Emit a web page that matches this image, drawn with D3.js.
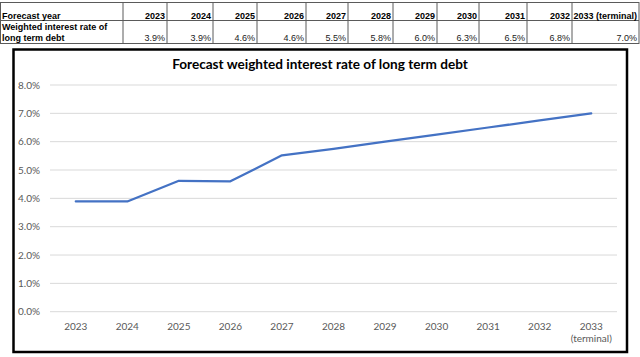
<!DOCTYPE html>
<html>
<head>
<meta charset="utf-8">
<script src="https://cdn.jsdelivr.net/npm/d3@7"></script>
<style>
  html, body { margin: 0; padding: 0; background: #fff; }
  svg { display: block; }
</style>
</head>
<body>
<svg id="chart" width="640" height="357"></svg>
<script>
// ---- data ----
const years = ["2023", "2024", "2025", "2026", "2027", "2028", "2029", "2030", "2031", "2032", "2033 (terminal)"];
const rates = [3.89, 3.89, 4.62, 4.60, 5.52, 5.75, 6.00, 6.25, 6.50, 6.75, 7.00];
const tableValues = ["3.9%", "3.9%", "4.6%", "4.6%", "5.5%", "5.8%", "6.0%", "6.3%", "6.5%", "6.8%", "7.0%"];
const rowLabels = ["Forecast year", ["Weighted interest rate of", "long term debt"]];
const yTicks = [0, 1, 2, 3, 4, 5, 6, 7, 8];
const title = "Forecast weighted interest rate of long term debt";

const svg = d3.select("#chart");

// ---- table ----
const colEdges = [0.5, 123, 167, 213, 257, 306, 348, 393, 437, 479, 527, 572, 639];
const rowEdges = [2.5, 20.5, 43.5];
const table = svg.append("g").attr("font-family", "'Liberation Sans', Arial, sans-serif").attr("font-size", 9);
table.append("rect").attr("x", colEdges[0]).attr("y", rowEdges[0])
  .attr("width", colEdges[colEdges.length - 1] - colEdges[0]).attr("height", rowEdges[2] - rowEdges[0])
  .attr("fill", "#fff").attr("stroke", "#5a5a5a").attr("stroke-width", 1);
table.selectAll("line.v").data(colEdges.slice(1, -1)).join("line")
  .attr("x1", d => d).attr("x2", d => d).attr("y1", rowEdges[0]).attr("y2", rowEdges[2])
  .attr("stroke", "#5a5a5a").attr("stroke-width", 1);
table.append("line").attr("x1", colEdges[0]).attr("x2", colEdges[colEdges.length - 1])
  .attr("y1", rowEdges[1]).attr("y2", rowEdges[1]).attr("stroke", "#5a5a5a");

table.append("text").attr("x", 2).attr("y", 18.5).attr("font-weight", "bold").attr("fill", "#000").text(rowLabels[0]);
table.append("text").attr("x", 2).attr("y", 29.5).attr("font-weight", "bold").attr("fill", "#000").text(rowLabels[1][0]);
table.append("text").attr("x", 2).attr("y", 41).attr("font-weight", "bold").attr("fill", "#000").text(rowLabels[1][1]);

table.selectAll("text.yr").data(years).join("text").attr("class", "yr")
  .attr("x", (d, i) => colEdges[i + 2] - 2).attr("y", 18.5)
  .attr("text-anchor", "end").attr("font-weight", "bold").attr("fill", "#000").text(d => d);
table.selectAll("text.val").data(tableValues).join("text").attr("class", "val")
  .attr("x", (d, i) => colEdges[i + 2] - 2).attr("y", 41)
  .attr("text-anchor", "end").attr("fill", "#222").text(d => d);

// ---- chart frame ----
svg.append("rect").attr("x", 13.5).attr("y", 49.5).attr("width", 613.5).attr("height", 302.5)
  .attr("fill", "#fff").attr("stroke", "#000").attr("stroke-width", 2.5);

const font = "Lato, 'Open Sans', sans-serif";
svg.append("text").attr("x", 320).attr("y", 68.5).attr("text-anchor", "middle")
  .attr("font-family", font).attr("font-weight", "bold").attr("font-size", 13.6).attr("fill", "#000")
  .text(title);

const x = d3.scaleBand().domain(years).range([50, 617]).padding(0);
const y = d3.scaleLinear().domain([0, 8]).range([311.7, 85]);

// gridlines
svg.append("g").selectAll("line").data(yTicks).join("line")
  .attr("x1", 50).attr("x2", 617).attr("y1", d => y(d)).attr("y2", d => y(d))
  .attr("stroke", "#d9d9d9").attr("stroke-width", 1);

// y axis
const yAxis = svg.append("g").attr("transform", "translate(44,0)")
  .call(d3.axisLeft(y).tickValues(yTicks).tickSize(0).tickPadding(4).tickFormat(d => d3.format(".1%")(d / 100)));
yAxis.select(".domain").remove();
yAxis.selectAll("text").attr("font-family", font).attr("font-size", 10).attr("fill", "#595959");

// x axis
const xAxis = svg.append("g").attr("transform", `translate(0,${y(0)})`)
  .call(d3.axisBottom(x).tickSize(0).tickFormat(""));
xAxis.select(".domain").remove();
xAxis.selectAll(".tick").each(function (d) {
  const parts = d.split(" ");
  const t = d3.select(this).append("text").attr("text-anchor", "middle")
    .attr("font-family", font).attr("font-size", 10).attr("fill", "#595959");
  parts.forEach((p, i) => t.append("tspan").attr("x", 0).attr("y", 18.5 + i * 12).text(p));
});

// line
const line = d3.line().x((d, i) => x(years[i]) + x.bandwidth() / 2).y(d => y(d));
svg.append("path").datum(rates).attr("d", line)
  .attr("fill", "none").attr("stroke", "#4472C4").attr("stroke-width", 2.25)
  .attr("stroke-linejoin", "round").attr("stroke-linecap", "round");
</script>
</body>
</html>
